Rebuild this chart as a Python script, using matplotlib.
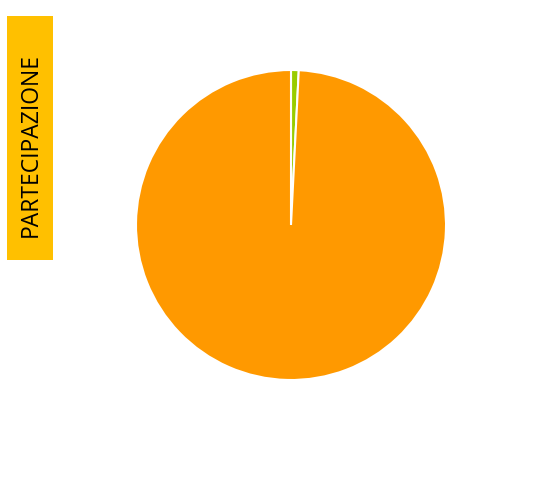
import matplotlib.pyplot as plt
from matplotlib.patches import Rectangle

# slice shares (percent)
labels = ['Sì', 'No']
values = [0.8, 99.2]
colors = ['#99CC00', '#FF9900']

W, H = 533, 484
fig = plt.figure(figsize=(W / 100, H / 100), dpi=100)

ax = fig.add_axes([136 / W, 1 - 380 / H, 310 / W, 310 / H])
ax.pie(values, colors=colors, startangle=90, counterclock=False,
       wedgeprops=dict(edgecolor='white', linewidth=1.5))
ax.set_xlim(-1, 1)
ax.set_ylim(-1, 1)
ax.set_aspect('equal')
ax.axis('off')

# vertical title box on the left
fig.patches.append(Rectangle((7 / W, 1 - 260 / H), 46 / W, 244 / H,
                             transform=fig.transFigure, facecolor='#FFC000',
                             edgecolor='none'))
fig.text(31 / W, 1 - 145 / H, 'PARTECIPAZIONE', rotation=90,
         ha='center', va='center', fontsize=16.5, color='black',
         family='Open Sans')

plt.savefig('out.png', dpi=100)
